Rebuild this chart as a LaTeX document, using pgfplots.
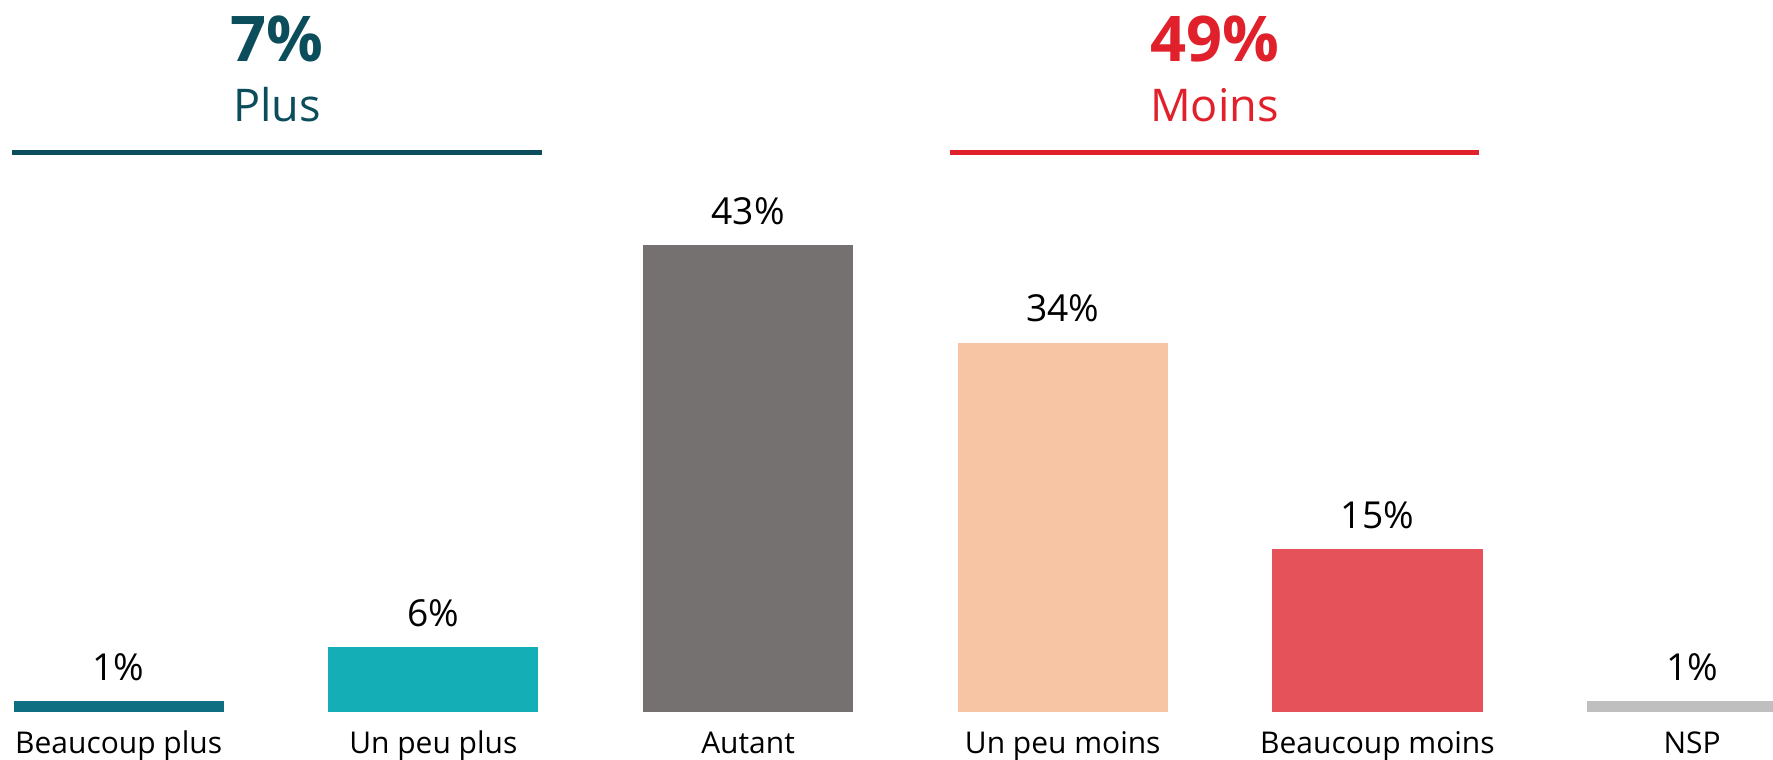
\documentclass[border=0pt]{standalone}
\usepackage{fontspec}
\setmainfont{Open Sans}
\usepackage{pgfplots}
\pgfplotsset{compat=1.18}

\definecolor{bplus}{HTML}{0F6E82}
\definecolor{uplus}{HTML}{14AFB6}
\definecolor{autant}{HTML}{757170}
\definecolor{umoins}{HTML}{F7C4A4}
\definecolor{bmoins}{HTML}{E6525A}
\definecolor{nsp}{HTML}{BFBFBF}
\definecolor{plushead}{HTML}{0C4D5B}
\definecolor{moinshead}{HTML}{E0202A}

\begin{document}
\begin{tikzpicture}
\begin{axis}[
  width=784bp, height=336bp, scale only axis,
  xmin=-0.377, xmax=5.257,
  ymin=-4.375, ymax=65.6,
  ybar, bar width=0.668, bar shift=0pt,
  axis x line*=bottom, axis y line=none,
  x axis line style={draw=none},
  xtick={0,1,2,3,4,5},
  xticklabels={Beaucoup plus,Un peu plus,Autant,Un peu moins,Beaucoup moins,NSP},
  major tick length=0pt,
  xticklabel style={anchor=base, inner sep=0pt, yshift=3bp,
    font=\fontsize{13.3}{16}\selectfont},
  /pgf/number format/assume math mode=true,
  nodes near coords={\pgfmathprintnumber{\pgfplotspointmeta}\%},
  nodes near coords style={anchor=south, inner sep=0pt, yshift=9bp,
    font=\fontsize{16.5}{19}\selectfont, text=black},
]
\addplot[fill=bplus, draw=none] coordinates {(0,1)};
\addplot[fill=uplus, draw=none] coordinates {(1,6)};
\addplot[fill=autant, draw=none] coordinates {(2,43)};
\addplot[fill=umoins, draw=none] coordinates {(3,34)};
\addplot[fill=bmoins, draw=none] coordinates {(4,15)};
\addplot[fill=nsp, draw=none] coordinates {(5,1)};

% group headers
\draw[plushead, line width=2.2bp] (axis cs:-0.338,51.56) -- (axis cs:1.344,51.56);
\draw[moinshead, line width=2.2bp] (axis cs:2.641,51.56) -- (axis cs:4.323,51.56);
\node[anchor=base, text=plushead, font=\fontsize{28}{30}\selectfont\bfseries]
  at (axis cs:0.503,59.9) {7\%};
\node[anchor=base, text=plushead, font=\fontsize{20}{24}\selectfont]
  at (axis cs:0.503,54.4) {Plus};
\node[anchor=base, text=moinshead, font=\fontsize{28}{30}\selectfont\bfseries]
  at (axis cs:3.482,59.9) {49\%};
\node[anchor=base, text=moinshead, font=\fontsize{20}{24}\selectfont]
  at (axis cs:3.482,54.4) {Moins};
\end{axis}
\pgfresetboundingbox
\path (current axis.south west) rectangle (current axis.north east);
\end{tikzpicture}
\end{document}
